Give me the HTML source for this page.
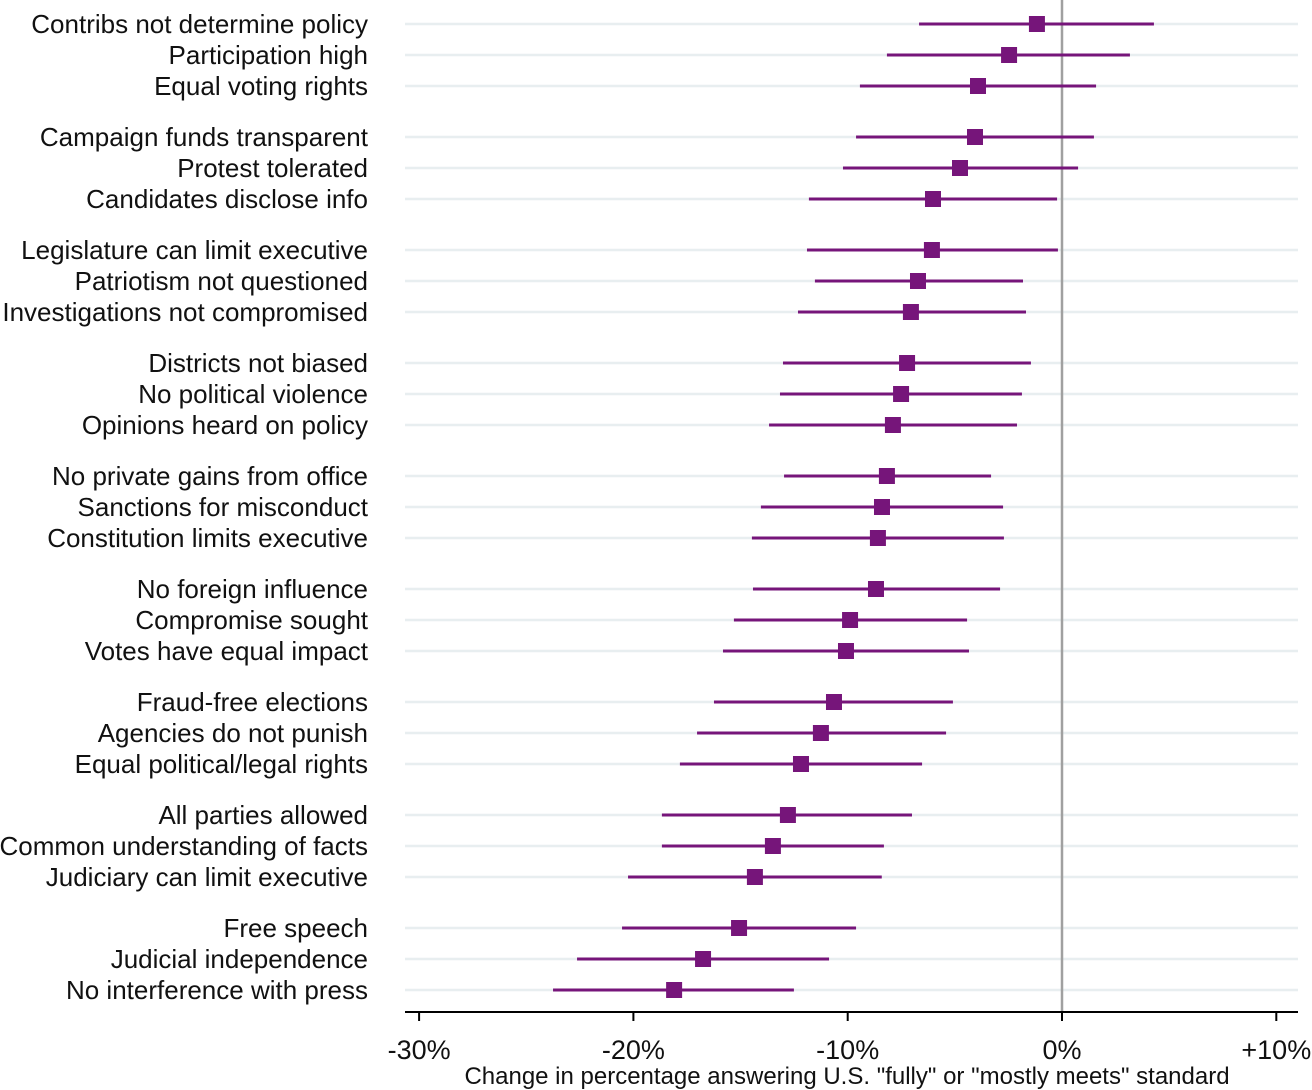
<!DOCTYPE html>
<html><head><meta charset="utf-8"><style>
html,body{margin:0;padding:0;background:#fff;}
svg{display:block;font-family:"Liberation Sans",sans-serif;}
</style></head><body>
<svg id="chart" width="1312" height="1090" viewBox="0 0 1312 1090" xmlns="http://www.w3.org/2000/svg"></svg>
<script>
const categories = ["Contribs not determine policy","Participation high","Equal voting rights","Campaign funds transparent","Protest tolerated","Candidates disclose info","Legislature can limit executive","Patriotism not questioned","Investigations not compromised","Districts not biased","No political violence","Opinions heard on policy","No private gains from office","Sanctions for misconduct","Constitution limits executive","No foreign influence","Compromise sought","Votes have equal impact","Fraud-free elections","Agencies do not punish","Equal political/legal rights","All parties allowed","Common understanding of facts","Judiciary can limit executive","Free speech","Judicial independence","No interference with press"];
const estimates = [-1.17,-2.47,-3.92,-4.06,-4.76,-6.02,-6.07,-6.72,-7.05,-7.23,-7.51,-7.89,-8.17,-8.40,-8.59,-8.68,-9.89,-10.08,-10.64,-11.25,-12.18,-12.79,-13.49,-14.33,-15.07,-16.75,-18.10];
const lowerCI = [-6.67,-8.17,-9.43,-9.61,-10.22,-11.81,-11.90,-11.53,-12.32,-13.02,-13.16,-13.67,-12.97,-14.05,-14.47,-14.42,-15.31,-15.82,-16.24,-17.03,-17.83,-18.67,-18.67,-20.25,-20.53,-22.63,-23.75];
const upperCI = [4.29,3.17,1.59,1.49,0.75,-0.23,-0.19,-1.82,-1.68,-1.45,-1.87,-2.10,-3.31,-2.75,-2.71,-2.89,-4.43,-4.34,-5.09,-5.41,-6.53,-7.00,-8.31,-8.41,-9.61,-10.87,-12.51];
const xTicks = [-30,-20,-10,0,10];
const xTickLabels = ["-30%","-20%","-10%","0%","+10%"];

const svg = document.getElementById('chart');
const NS = "http://www.w3.org/2000/svg";
const xScale = v => 1062 + v * 21.43;
const yScale = i => 24 + i * 31 + Math.floor(i / 3) * 20;
function mk(tag, attrs, parent) {
  const e = document.createElementNS(NS, tag);
  for (const k in attrs) e.setAttribute(k, attrs[k]);
  (parent || svg).appendChild(e);
  return e;
}
const purple = "#76157a";
categories.forEach((c, i) => {
  const g = mk('line', {x1:405, x2:1298, y1:yScale(i), y2:yScale(i), stroke:"#e8eef0", "stroke-width":2.5});
  
  
});
const z = mk('line', {x1:xScale(0), x2:xScale(0), y1:0, y2:1012, stroke:"#a0a0a0", "stroke-width":2.5});


categories.forEach((c, i) => {
  const y = yScale(i);
  const l = mk('text', {x:368, y:y + 9, "text-anchor":"end", "font-size":26, fill:"#111"});
  l.textContent = c;
  
  
  const ci = mk('line', {x1:xScale(lowerCI[i]), x2:xScale(upperCI[i]), y1:y, y2:y, stroke:purple, "stroke-width":3});
  
  
  const p = mk('rect', {x:xScale(estimates[i]) - 8, y:y - 8, width:16, height:16, fill:purple});
  
  
});
const ax = mk('line', {x1:405, x2:1298, y1:1012, y2:1012, stroke:"#000", "stroke-width":2});


xTicks.forEach((t, i) => {
  const tk = mk('line', {x1:xScale(t), x2:xScale(t), y1:1012, y2:1021, stroke:"#000", "stroke-width":2});
  
  
  const tl = mk('text', {x:xScale(t), y:1059, "text-anchor":"middle", "font-size":27, fill:"#111"});
  tl.textContent = xTickLabels[i];
  
  
});
const at = mk('text', {x:847, y:1084, "text-anchor":"middle", "font-size":24, fill:"#111"});
at.textContent = 'Change in percentage answering U.S. "fully" or "mostly meets" standard';


</script>
</body></html>
